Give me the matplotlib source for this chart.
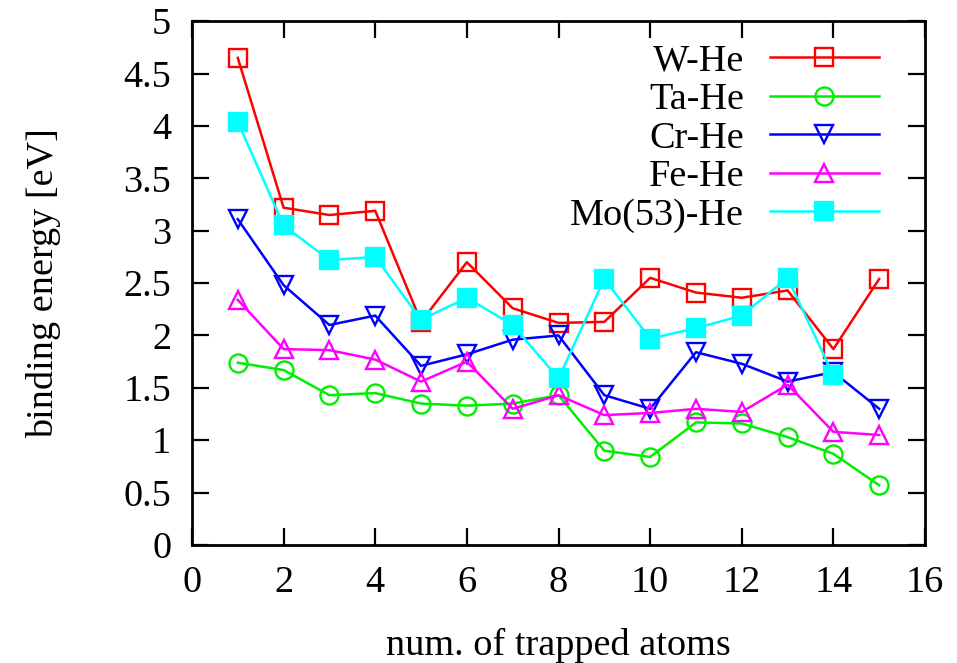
import numpy as np
import matplotlib
matplotlib.use("Agg")
import matplotlib.pyplot as plt

# data
n_w = [1, 2, 3, 4, 5, 6, 7, 8, 9, 10, 11, 12, 13, 14, 15]
w_he = [4.65, 3.22, 3.15, 3.19, 2.13, 2.70, 2.26, 2.12, 2.13, 2.55, 2.41, 2.36, 2.43, 1.87, 2.54]
ta_he = [1.74, 1.67, 1.43, 1.45, 1.35, 1.33, 1.35, 1.43, 0.90, 0.84, 1.17, 1.16, 1.03, 0.87, 0.57]
cr_he = [3.11, 2.48, 2.10, 2.19, 1.71, 1.82, 1.96, 2.00, 1.43, 1.30, 1.84, 1.73, 1.56, 1.65, 1.30]
fe_he = [2.34, 1.87, 1.86, 1.77, 1.56, 1.75, 1.30, 1.43, 1.24, 1.26, 1.30, 1.27, 1.53, 1.08, 1.05]
n_mo = [1, 2, 3, 4, 5, 6, 7, 8, 9, 10, 11, 12, 13, 14]
mo_he = [4.04, 3.05, 2.72, 2.75, 2.15, 2.36, 2.10, 1.59, 2.54, 1.97, 2.07, 2.19, 2.55, 1.62]

x_ticks = [0, 2, 4, 6, 8, 10, 12, 14, 16]
y_ticks = [0, 0.5, 1, 1.5, 2, 2.5, 3, 3.5, 4, 4.5, 5]
y_ticklabels = ["0", "0.5", "1", "1.5", "2", "2.5", "3", "3.5", "4", "4.5", "5"]

FS = 27.5
plt.rcParams["font.family"] = ["Liberation Serif", "DejaVu Serif"]
plt.rcParams["font.size"] = FS

fig = plt.figure(figsize=(9.57, 6.63), dpi=100)
fig.patch.set_facecolor("white")
ax = fig.add_axes([0.2006, 0.178, 0.766, 0.790])

style = dict(lw=1.8, ms=13, mew=1.7)
ax.plot(n_w, w_he, color="#ff0000", marker="s", mfc="none", label="W-He", **style)
ax.plot(n_w, ta_he, color="#00ee00", marker="o", mfc="none", label="Ta-He", **style)
ax.plot(n_w, cr_he, color="#0000ff", marker="v", mfc="none", label="Cr-He", **style)
ax.plot(n_w, fe_he, color="#ff00ff", marker="^", mfc="none", label="Fe-He", **style)
ax.plot(n_mo, mo_he, color="#00ffff", marker="s", mfc="#00ffff", label="Mo(53)-He", **style)

ax.set_xlim(0, 16)
ax.set_ylim(0, 5)
ax.set_xticks(x_ticks)
ax.set_yticks(y_ticks)
ax.set_yticklabels(y_ticklabels)
ax.tick_params(direction="in", length=12, width=1.6, top=True, right=True,
               labelsize=FS, pad=15)
for sp in ax.spines.values():
    sp.set_linewidth(2.0)

ax.set_xlabel("num. of trapped atoms", fontsize=FS, labelpad=20)
ax.set_ylabel("binding energy [eV]", fontsize=FS, labelpad=45)

ax.legend(loc="upper right", bbox_to_anchor=(0.937, 0.957), frameon=False,
          markerfirst=False, handlelength=2.85, handletextpad=0.68,
          labelspacing=0.1, fontsize=FS, borderaxespad=0, borderpad=0)

fig.savefig("out.png", dpi=100)
